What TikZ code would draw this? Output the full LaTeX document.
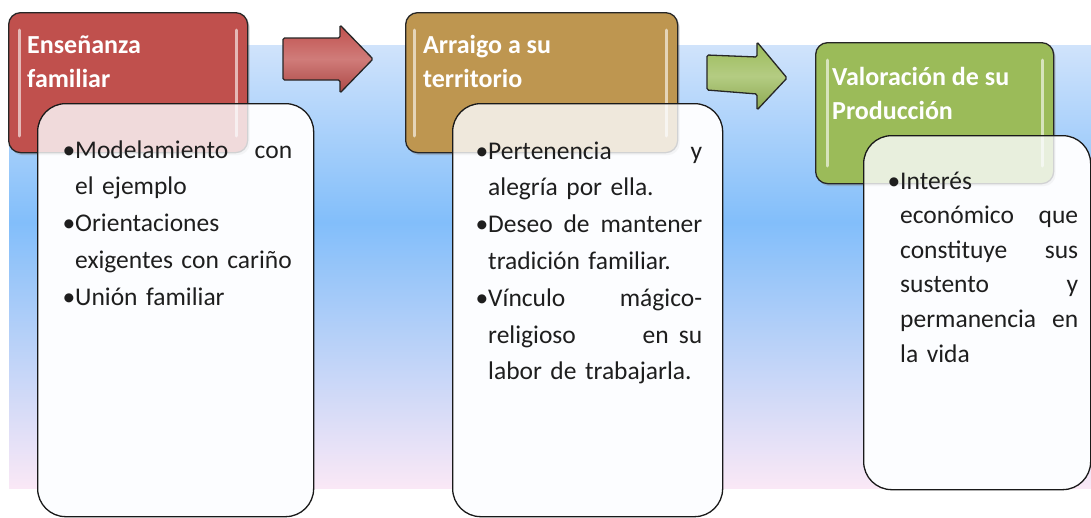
\documentclass[tikz,border=0pt]{standalone}
\usepackage{fontspec}
\setmainfont{Carlito}
\usepackage{tikz}
\usetikzlibrary{positioning, shadows}
\definecolor{headRed}{RGB}{192, 80, 77}
\definecolor{headGold}{RGB}{190, 150, 80}
\definecolor{headGreen}{RGB}{155, 187, 89}
\definecolor{bandTop}{RGB}{208, 227, 251}
\definecolor{bandMid}{RGB}{130, 190, 250}
\definecolor{bandBot}{RGB}{250, 232, 246}
\definecolor{panelFill}{RGB}{252, 253, 255}
\definecolor{itemColor}{RGB}{30, 30, 30}
\pgfdeclareverticalshading{bandShade}{100bp}{color(0bp)=(bandBot); color(25bp)=(bandBot); color(55bp)=(bandMid); color(75bp)=(bandTop); color(100bp)=(bandTop)}
\newcommand{\itemdot}{\leavevmode\llap{•}}
\tikzset{
    head_box/.style={
        rectangle,
        rounded corners=12pt,
        draw=black!85,
        line width=1.3pt,
        anchor=north west,
        inner sep=0pt,
        drop shadow={opacity=0.35, shadow xshift=2pt, shadow yshift=-2.5pt}
    },
    panel_box/.style={
        rectangle,
        rounded corners=28pt,
        draw=black!90,
        line width=1.3pt,
        fill=panelFill,
        fill opacity=0.8,
        anchor=north west,
        inner sep=0pt
    },
    panel_under/.style={
        fill=panelFill,
        rounded corners=28pt
    },
    head_text/.style={
        anchor=base west,
        inner sep=0pt,
        text=white,
        align=left,
        font=\fontsize{26}{34}\selectfont\bfseries
    },
    item_text/.style={
        anchor=base west,
        inner sep=0pt,
        align=left,
        text=itemColor,
        font=\fontsize{25.5}{36.8}\selectfont
    },
    gloss/.style={
        white,
        opacity=0.6,
        line width=3pt,
        line cap=round
    },
    block_arrow/.style={
        draw=black!85,
        line width=1.3pt,
        rounded corners=1.5pt
    }
}
\begin{document}
\begin{tikzpicture}[x=1pt, y=-1pt]
    \useasboundingbox (0,0) rectangle (1091,517);
    \fill[shading=bandShade] (9,45) rectangle (1091,488);
    \fill[panel_under] (37,103) rectangle (313,516);
    \fill[panel_under] (452,103) rectangle (722,516);
    \fill[panel_under] (863,135) rectangle (1090,489);

    \node[head_box, fill=headRed, minimum width=239pt, minimum height=140pt] (headA) at (8,12) {};
    \node[head_box, fill=headGold, minimum width=272pt, minimum height=140pt] (headB) at (405,12) {};
    \node[head_box, fill=headGreen, minimum width=238pt, minimum height=141pt] (headC) at (815,42) {};
    \draw[gloss] (19,30) -- (19,136) (236,30) -- (236,136);
    \draw[gloss] (414,30) -- (414,136) (666,30) -- (666,136);
    \draw[gloss] (827,60) -- (827,166) (1042,60) -- (1042,166);

    \draw[block_arrow, top color=headRed, bottom color=headRed!90!black, middle color=headRed!75!white]
        (283,38) -- (340,38) -- (340,25) -- (373,59) -- (340,93) -- (340,80) -- (283,80) -- cycle;
    \draw[block_arrow, top color=headGreen, bottom color=headGreen!90!black, middle color=headGreen!75!white]
        (707,55) -- (757,57) -- (757,42) -- (787,78) -- (757,110) -- (757,94) -- (707,90) -- cycle;

    \node[head_text] (titleA) at (27,87) {Enseñanza\\familiar};
    \node[head_text] (titleB) at (423,87) {Arraigo a su\\territorio};
    \node[head_text] (titleC) at (832,119) {Valoración de su\\Producción};

    \node[panel_box, minimum width=276pt, minimum height=413pt] (panelA) at (37,103) {};
    \node[panel_box, minimum width=270pt, minimum height=413pt] (panelB) at (452,103) {};
    \node[panel_box, minimum width=227pt, minimum height=354pt] (panelC) at (863,135) {};

    \node[item_text, text width=217pt] (itemsA) at (75,158)
        {\itemdot Modelamiento\hfill con\\el ejemplo\\\itemdot Orientaciones\\exigentes con cariño\\\itemdot Unión familiar};
    \node[item_text, text width=214pt] (itemsB) at (488,159)
        {\itemdot Pertenencia\hfill y\\alegría por ella.\\\itemdot Deseo\hfill de\hfill mantener\\tradición familiar.\\\itemdot Vínculo\hfill mágico-\\religioso\hfill en\hspace{10pt}su\\labor de trabajarla.};
    \node[item_text, text width=178pt, font=\fontsize{25.5}{34.6}\selectfont] (itemsC) at (900,189)
        {\itemdot Interés\\económico\hfill que\\constituye\hfill sus\\sustento\hfill y\\permanencia\hfill en\\la vida};
\end{tikzpicture}
\end{document}
